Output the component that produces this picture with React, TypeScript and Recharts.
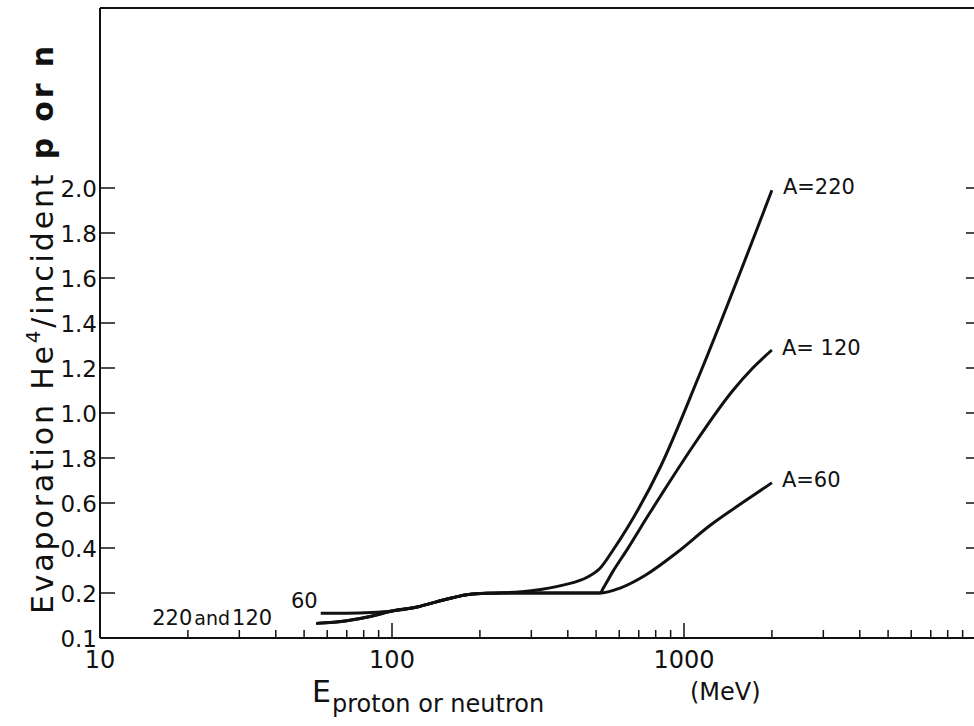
import React from "react";
import { LineChart, Line, XAxis, YAxis, ReferenceDot } from "recharts";

/**
 * Evaporation He4 yield per incident nucleon vs. incident energy,
 * three target masses (A = 220, 120, 60). Log energy axis, hand-lettered style.
 */

const FONT = '"DejaVu Sans", "Liberation Sans", sans-serif';
const INK = "#111";

// energy (MeV) / yield pairs for each curve
const E_220 = [55, 70, 85, 100, 122, 150, 189, 234, 300, 385, 466, 516, 571, 640, 830, 1130, 2000];
const Y_220 = [0.065, 0.077, 0.097, 0.12, 0.138, 0.169, 0.196, 0.2, 0.21, 0.235, 0.27, 0.31, 0.39, 0.49, 0.76, 1.17, 1.99];

const E_120 = [55, 70, 85, 100, 122, 150, 189, 234, 300, 385, 516, 530, 571, 640, 750, 830, 1070, 1470, 1720, 2000];
const Y_120 = [0.065, 0.077, 0.097, 0.12, 0.138, 0.169, 0.196, 0.2, 0.2, 0.2, 0.2, 0.224, 0.296, 0.395, 0.54, 0.63, 0.85, 1.1, 1.2, 1.28];

const E_60 = [57, 70, 85, 100, 122, 150, 189, 234, 300, 385, 516, 604, 735, 946, 1227, 1593, 2000];
const Y_60 = [0.11, 0.11, 0.113, 0.12, 0.138, 0.169, 0.196, 0.2, 0.2, 0.2, 0.2, 0.222, 0.278, 0.38, 0.5, 0.603, 0.69];

const X_TICKS = [
  10, 20, 30, 40, 50, 60, 70, 80, 90,
  100, 200, 300, 400, 500, 600, 700, 800, 900,
  1000, 2000, 3000, 4000, 5000, 6000, 7000, 8000, 9000, 10000,
];
const X_MAJOR = [10, 100, 1000];

const Y_TICKS = [0, 0.2, 0.4, 0.6, 0.8, 1.0, 1.2, 1.4, 1.6, 1.8, 2.0];
const Y_LABELS = ["0.1", "0.2", "0.4", "0.6", "1.8", "1.0", "1.2", "1.4", "1.6", "1.8", "2.0"];

const toPoints = (xs: number[], ys: number[]) => xs.map((x, i) => ({ x, y: ys[i] }));

const D220 = toPoints(E_220, Y_220);
const D120 = toPoints(E_120, Y_120);
const D60 = toPoints(E_60, Y_60);

const W = 990;
const H = 726;

function BottomTick(props: any) {
  const { x, y, payload } = props;
  const v = payload.value;
  const major = X_MAJOR.includes(v);
  return (
    <g>
      {v > 10 && v < 10000 && (
        <line x1={x} y1={y} x2={x} y2={y - (major ? 15 : 8)} stroke={INK} strokeWidth={1.5} />
      )}
      {major && (
        <text x={x} y={y + 30} textAnchor="middle" fontSize={24} fontFamily={FONT} fill={INK}>
          {v}
        </text>
      )}
    </g>
  );
}

function TopTick(props: any) {
  const { x, y, payload } = props;
  const v = payload.value;
  if (v <= 10 || v >= 10000) return <g />;
  const major = X_MAJOR.includes(v);
  return <line x1={x} y1={y} x2={x} y2={y + (major ? 15 : 9)} stroke={INK} strokeWidth={1.5} />;
}

function LeftTick(props: any) {
  const { x, y, payload, index } = props;
  return (
    <g>
      {payload.value > 0 && <line x1={x} y1={y} x2={x + 15} y2={y} stroke={INK} strokeWidth={1.5} />}
      <text x={x - 3} y={y + 8.5} textAnchor="end" fontSize={23} fontFamily={FONT} fill={INK}>
        {Y_LABELS[index]}
      </text>
    </g>
  );
}

function RightTick(props: any) {
  const { x, y, payload } = props;
  if (payload.value <= 0) return <g />;
  return <line x1={x} y1={y} x2={x - 10} y2={y} stroke={INK} strokeWidth={1.5} />;
}

function tag(text: React.ReactNode, dx: number, dy: number, anchor: "start" | "end" = "start") {
  return (props: any) => {
    const vb = props.viewBox || {};
    const cx = (vb.x ?? 0) + (vb.width ?? 0) / 2;
    const cy = (vb.y ?? 0) + (vb.height ?? 0) / 2;
    return (
      <text x={cx + dx} y={cy + dy} textAnchor={anchor} fontSize={21} fontFamily={FONT} fill={INK}>
        {text}
      </text>
    );
  };
}

export default function App() {
  const axisLine = { stroke: INK, strokeWidth: 2 };
  return (
    <div style={{ position: "absolute", left: 0, top: 0, width: 974, height: 726, overflow: "hidden", background: "#fff" }}>
      <LineChart width={W} height={H} margin={{ top: 0, right: 4, bottom: 0, left: 40 }}>
        <XAxis
          dataKey="x"
          type="number"
          scale="log"
          domain={[10, 10000]}
          allowDataOverflow
          ticks={X_TICKS}
          interval={0}
          height={88}
          tickSize={0}
          tickMargin={0}
          tickLine={false}
          axisLine={axisLine}
          tick={<BottomTick />}
        />
        <XAxis
          xAxisId="top"
          orientation="top"
          type="number"
          scale="log"
          domain={[10, 10000]}
          allowDataOverflow
          ticks={X_TICKS}
          interval={0}
          height={8}
          tickSize={0}
          tickMargin={0}
          tickLine={false}
          axisLine={axisLine}
          tick={<TopTick />}
        />
        <YAxis
          type="number"
          domain={[0, 2.8]}
          allowDataOverflow
          ticks={Y_TICKS}
          interval={0}
          width={60}
          tickSize={0}
          tickMargin={0}
          tickLine={false}
          axisLine={axisLine}
          tick={<LeftTick />}
        />
        <YAxis
          yAxisId="right"
          orientation="right"
          type="number"
          domain={[0, 2.8]}
          allowDataOverflow
          ticks={Y_TICKS}
          interval={0}
          width={10}
          tickSize={0}
          tickMargin={0}
          tickLine={false}
          axisLine={axisLine}
          tick={<RightTick />}
        />
        <Line data={D220} dataKey="y" type="monotone" stroke={INK} strokeWidth={3} dot={false} isAnimationActive={false} />
        <Line data={D120} dataKey="y" type="monotone" stroke={INK} strokeWidth={3} dot={false} isAnimationActive={false} />
        <Line data={D60} dataKey="y" type="monotone" stroke={INK} strokeWidth={3} dot={false} isAnimationActive={false} />
        <ReferenceDot x={2000} y={1.99} r={0} fill="none" stroke="none" label={{ content: tag("A=220", 11, 4) }} />
        <ReferenceDot x={2000} y={1.28} r={0} fill="none" stroke="none" label={{ content: tag("A= 120", 10, 5) }} />
        <ReferenceDot x={2000} y={0.69} r={0} fill="none" stroke="none" label={{ content: tag("A=60", 10, 4) }} />
        <ReferenceDot x={57} y={0.11} r={0} fill="none" stroke="none" label={{ content: tag("60", -3, -5, "end") }} />
        <ReferenceDot
          x={55}
          y={0.065}
          r={0}
          fill="none"
          stroke="none"
          label={{
            content: tag(
              <>
                220<tspan fontSize={19} dx={2}>and</tspan>
                <tspan dx={2}>120</tspan>
              </>,
              -44,
              2,
              "end"
            ),
          }}
        />
      </LineChart>

      <svg width={974} height={726} style={{ position: "absolute", left: 0, top: 0, pointerEvents: "none" }}>
        <text
          x={53}
          y={330}
          transform="rotate(-90 53 330)"
          textAnchor="middle"
          fontSize={30}
          fontFamily={FONT}
          fill={INK}
          textLength={568}
          lengthAdjust="spacing"
        >
          Evaporation He<tspan dy={-13} fontSize={20}>4</tspan>
          <tspan dy={13}>/incident </tspan>
          <tspan fontWeight={700}>p or n</tspan>
        </text>
        <text x={312} y={702} fontSize={30} fontFamily={FONT} fill={INK}>
          E
        </text>
        <text x={332} y={712} fontSize={24} fontFamily={FONT} fill={INK}>
          proton or neutron
        </text>
        <text x={690} y={700} fontSize={24} fontFamily={FONT} fill={INK}>
          (MeV)
        </text>
      </svg>
    </div>
  );
}
